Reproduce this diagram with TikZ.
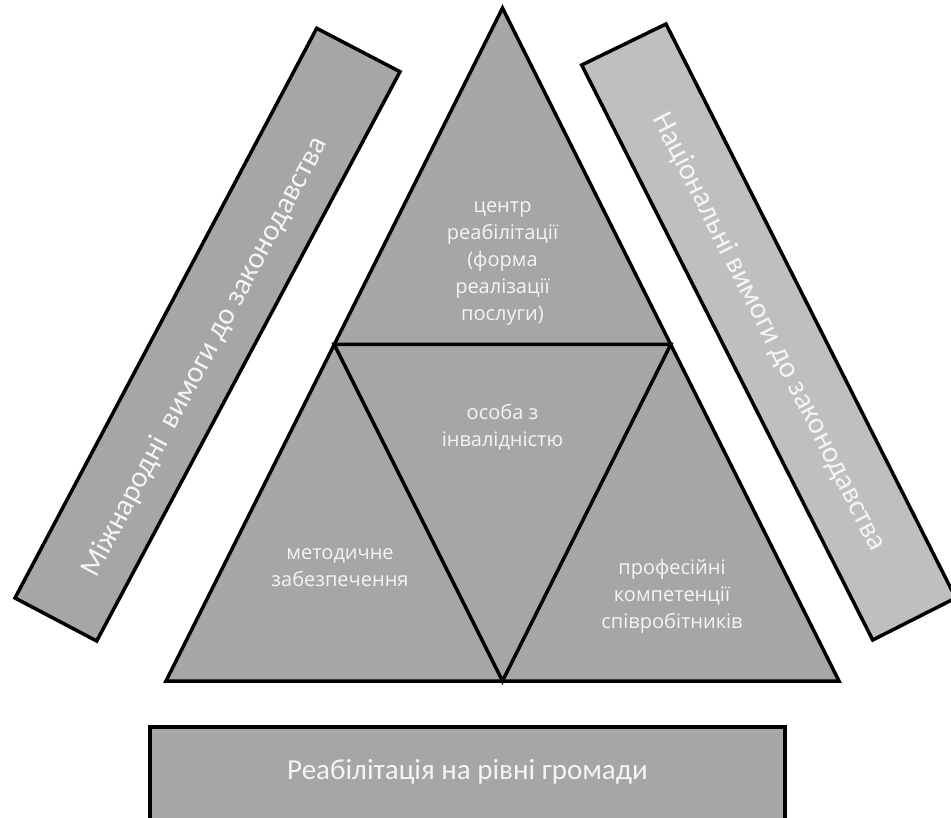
\documentclass[tikz,border=0pt]{standalone}
\usepackage{fontspec}
\setmainfont{Open Sans}
\newfontfamily\barfont{Carlito}
\definecolor{fillgrey}{HTML}{A6A6A6}
\definecolor{lightgrey}{HTML}{BFBFBF}
\definecolor{txtwhite}{HTML}{F4F4F4}
\tikzset{
  panel/.style={draw=black, line width=3.5pt, line join=miter, fill=fillgrey},
  tritext/.style={text=txtwhite, align=center, font=\fontsize{20}{27}\selectfont},
  bartext/.style={text=txtwhite, font=\barfont\fontsize{30}{36}\selectfont},
}
\begin{document}
\begin{tikzpicture}[x=1pt, y=-1pt]
  \useasboundingbox (0,0) rectangle (951,818);

  % left slanted bar
  \coordinate (l1) at (316.7,28.3);
  \coordinate (l2) at (400,71.7);
  \coordinate (l3) at (96.7,641);
  \coordinate (l4) at (15,598);
  \draw[panel] (l1) -- (l2) -- (l3) -- (l4) -- cycle;
  \node[bartext, rotate=62] (intl) at (205,357) {Міжнародні\ \ вимоги до законодавства};

  % right slanted bar
  \coordinate (r1) at (666,24);
  \coordinate (r2) at (955.7,598);
  \coordinate (r3) at (872.7,640);
  \coordinate (r4) at (581.7,65);
  \draw[panel, fill=lightgrey] (r1) -- (r2) -- (r3) -- (r4) -- cycle;
  \node[bartext, rotate=-63.2] (natl) at (769,332) {Національні вимоги до законодавства};

  % pyramid split into four triangles
  \coordinate (apex) at (502.5,8);
  \coordinate (bl) at (166,681);
  \coordinate (br) at (839,681);
  \coordinate (ml) at (334.25,344.5);
  \coordinate (mr) at (670.75,344.5);
  \coordinate (mb) at (502.5,681);
  \draw[panel] (apex) -- (br) -- (bl) -- cycle;
  \draw[line width=3.5pt, line join=miter] (ml) -- (mr) -- (mb) -- cycle;

  \node[tritext] (centre) at (502.5,263) {центр\\реабілітації\\(форма\\реалізації\\послуги)};
  \node[tritext] (person) at (502.5,427) {особа з\\інвалідністю};
  \node[tritext] (method) at (340,568) {методичне\\забезпечення};
  \node[tritext] (staff) at (672,596) {професійні\\компетенції\\співробітників};

  % base rectangle, running off the lower edge of the page
  \node[panel, minimum width=635pt, minimum height=97pt, inner sep=0pt] (base)
        at (467.5,775.5) {};
  \node[text=txtwhite, font=\barfont\fontsize{29}{34}\selectfont] (basetext)
        at (467.5,772) {Реабілітація на рівні громади};
\end{tikzpicture}
\end{document}
